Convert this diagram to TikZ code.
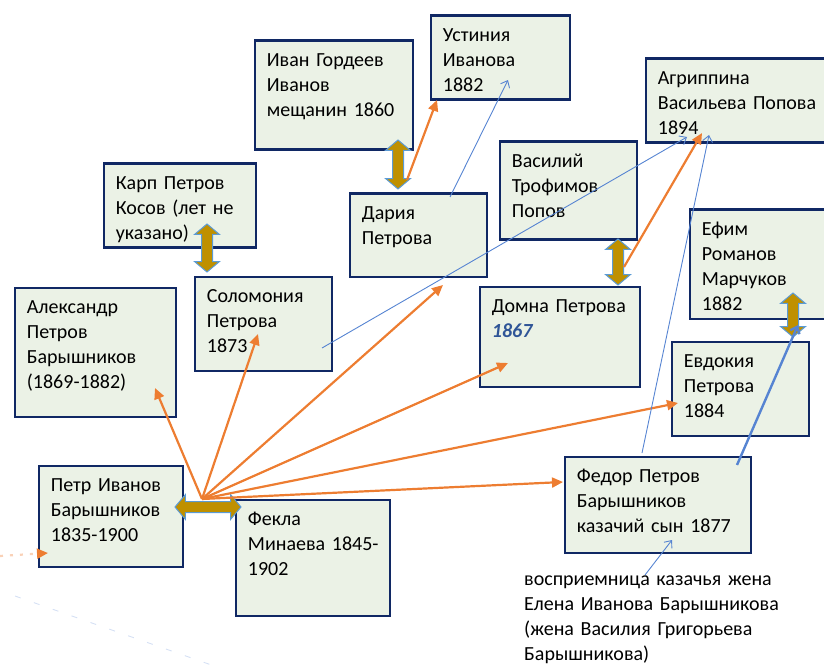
\documentclass[tikz,border=0pt]{standalone}
\usepackage{fontspec}
\setmainfont{Carlito}
\usetikzlibrary{arrows.meta, shapes.arrows}

\definecolor{boxfill}{RGB}{235,242,230}
\definecolor{boxline}{RGB}{16,40,100}
\definecolor{kinorange}{RGB}{237,125,49}
\definecolor{kinblue}{RGB}{86,132,210}
\definecolor{gold}{RGB}{191,144,0}
\definecolor{goldline}{RGB}{91,155,213}
\definecolor{yearblue}{RGB}{47,85,151}

\tikzset{
	person/.style 2 args = {draw = boxline, fill = boxfill, line width = 2.8pt, anchor = north west, align = left,
		inner xsep = 12pt, inner ysep = 10pt, text height = 15.5pt, text width = #1, text depth = #2},
	couple/.style = {double arrow, fill = gold, draw = goldline, line width = 1pt, inner sep = 5pt,
		double arrow head extend = 7pt, double arrow tip angle = 100},
	kid/.style = {-{Triangle[length = 11pt, width = 10pt]}, kinorange, line width = 2.2pt},
	godkid/.style = {-{Straight Barb[length = 6pt, width = 10pt]}, kinblue, line width = 0.9pt}
}

\begin{document}
\begin{tikzpicture}[x = 1pt, y = -1pt, font = \fontsize{20}{25}\selectfont]

	\useasboundingbox (0, 0) rectangle (824, 668);

	% People

		\node (ivan) [person = {134pt}{73.5pt}] at (253.5, 39.5) {Иван Гордеев\\Иванов\\мещанин 1860};
		\node (ustinia) [person = {115pt}{48.5pt}] at (429.5, 14.5) {Устиния\\Иванова\\1882};
		\node (agrippina) [person = {210pt}{48.5pt}] at (644.5, 57.5) {Агриппина\\Васильева Попова\\1894};
		\node (vasily) [person = {113pt}{62.5pt}] at (498.5, 140.5) {Василий\\Трофимов\\Попов};
		\node (daria) [person = {113pt}{47.5pt}] at (348.5, 192.5) {Дария\\Петрова};
		\node (karp) [person = {128pt}{48.5pt}] at (102.5, 162.5) {Карп Петров\\Косов (лет не\\указано)};
		\node (solomonia) [person = {113pt}{58.5pt}] at (193.5, 275.5) {Соломония\\Петрова\\1873};
		\node (alexandr) [person = {137pt}{93.5pt}] at (13.5, 286.5) {Александр\\Петров\\Барышников\\(1869-1882)};
		\node (petr) [person = {120pt}{65.5pt}] at (37.5, 464.5) {Петр Иванов\\Барышников\\1835-1900};
		\node (fekla) [person = {130pt}{80.5pt}] at (234.5, 498.5) {Фекла\\\mbox{Минаева 1845-}\\1902};
		\node (domna) [person = {136pt}{64.5pt}] at (478.5, 285.5) {Домна Петрова\\\textcolor{yearblue}{\textbf{\textit{1867}}}};
		\node (efim) [person = {170pt}{73.5pt}] at (688.5, 208.5) {Ефим\\Романов\\Марчуков\\1882};
		\node (evdokia) [person = {113pt}{58.5pt}] at (670.5, 340.5) {Евдокия\\Петрова\\1884};
		\node (fedor) [person = {162pt}{60.5pt}] at (563.5, 455.5) {Федор Петров\\Барышников\\казачий сын 1877};

		% Godmother

		\node (godmother) [anchor = north west, align = left, inner sep = 0pt, text width = 290pt,
			text height = 14pt, text depth = 80pt] at (524, 571)
			{восприемница казачья жена\\Елена Иванова Барышникова\\(жена Василия Григорьева\\Барышникова)};

	% Marriages

		\node (m1) [couple, rotate = 90, minimum height = 49pt] at (398, 164.5) {};
		\node (m2) [couple, rotate = 90, minimum height = 48pt] at (207, 248) {};
		\node (m3) [couple, minimum height = 66pt] at (208, 507) {};
		\node (m4) [couple, rotate = 90, minimum height = 46pt] at (618, 262) {};
		\node (m5) [couple, rotate = 90, minimum height = 44pt] at (793, 315) {};

	% Ends of the connectors

		\coordinate (fan) at (202, 499);
		\coordinate (alexandr in) at (155, 388);
		\coordinate (solomonia in) at (258, 334);
		\coordinate (daria in) at (443, 285);
		\coordinate (domna in) at (508, 363);
		\coordinate (evdokia in) at (678, 403);
		\coordinate (fedor in) at (563, 482);
		\coordinate (m1 out) at (407, 180);
		\coordinate (ustinia in) at (437, 100);
		\coordinate (m4 out) at (624, 267);
		\coordinate (agrippina in) at (702, 133);
		\coordinate (petr in) at (48, 553);
		\coordinate (left edge) at (0, 556);

	% Children

		\begin{scope}[kid]

			\draw (fan) -- (alexandr in);
			\draw (fan) -- (solomonia in);
			\draw (fan) -- (daria in);
			\draw (fan) -- (domna in);
			\draw (fan) -- (evdokia in);
			\draw (fan) -- (fedor in);
			\draw (m1 out) -- (ustinia in);
			\draw (m4 out) -- (agrippina in);
			\draw [draw = kinorange!35, dash pattern = on 3pt off 7pt, -{Triangle[length = 11pt, width = 10pt, color = kinorange]}]
				(left edge) -- (petr in);

		\end{scope}

	% Godchildren

		\coordinate (daria out) at (450, 197);
		\coordinate (ustinia god) at (508, 80);
		\coordinate (solomonia out) at (322, 348);
		\coordinate (agrippina god) at (687, 137);
		\coordinate (fedor top) at (642, 453);
		\coordinate (agrippina god2) at (709, 135);
		\coordinate (fedor out) at (737, 465);
		\coordinate (efim god) at (798, 325);
		\coordinate (godmother out) at (645, 575);
		\coordinate (fedor god) at (672, 540);
		\coordinate (trace a) at (15, 596);
		\coordinate (trace b) at (220, 668);

		\begin{scope}[godkid]

			\draw (daria out) -- (ustinia god);
			\draw (solomonia out) -- (agrippina god);
			\draw (fedor top) -- (agrippina god2);
			\draw [line width = 2.4pt] (fedor out) -- (efim god);
			\draw (godmother out) -- (fedor god);
			\draw [-, kinblue!25, dash pattern = on 6pt off 14pt] (trace a) -- (trace b);

		\end{scope}

\end{tikzpicture}
\end{document}
